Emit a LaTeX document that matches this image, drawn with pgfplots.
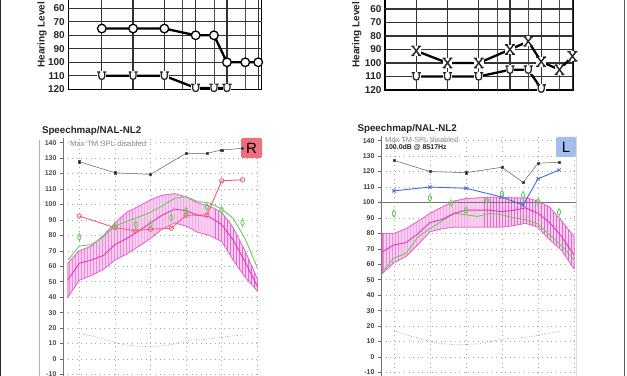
\documentclass[border=0pt]{standalone}
\usepackage{pgfplots}
\pgfplotsset{compat=1.18}
\usepackage{fontspec}
\setmainfont{Liberation Sans}
\usetikzlibrary{patterns}

\definecolor{mpoblk}{RGB}{50,50,50}
\definecolor{redl}{RGB}{240,95,115}
\definecolor{bluel}{RGB}{70,105,225}
\definecolor{greenl}{RGB}{105,205,90}
\definecolor{magl}{RGB}{225,55,190}
\definecolor{bandfill}{RGB}{248,205,240}
\definecolor{rbox}{RGB}{238,110,125}
\definecolor{lbox}{RGB}{165,190,240}

\pgfdeclareplotmark{ear}{%
  \pgfpathellipse{\pgfpointorigin}{\pgfqpoint{1.6pt}{0pt}}{\pgfqpoint{0pt}{2.6pt}}%
  \pgfpathmoveto{\pgfqpoint{0pt}{2.6pt}}\pgfpathlineto{\pgfqpoint{0pt}{4.6pt}}%
  \pgfpathmoveto{\pgfqpoint{0pt}{-2.6pt}}\pgfpathlineto{\pgfqpoint{0pt}{-4.6pt}}%
  \pgfusepathqstroke}
\pgfdeclareplotmark{Umark}{%
  \pgfpathrectangle{\pgfqpoint{-4.4pt}{-4.4pt}}{\pgfqpoint{8.8pt}{8.8pt}}%
  \pgfsetfillcolor{white}\pgfusepathqfill
  \pgfpathmoveto{\pgfqpoint{-3pt}{3.8pt}}\pgfpathlineto{\pgfqpoint{-3pt}{-0.6pt}}%
  \pgfpathcurveto{\pgfqpoint{-3pt}{-4.6pt}}{\pgfqpoint{3pt}{-4.6pt}}{\pgfqpoint{3pt}{-0.6pt}}%
  \pgfpathlineto{\pgfqpoint{3pt}{3.8pt}}%
  \pgfpathmoveto{\pgfqpoint{-4.6pt}{3.8pt}}\pgfpathlineto{\pgfqpoint{-1.4pt}{3.8pt}}%
  \pgfpathmoveto{\pgfqpoint{1.4pt}{3.8pt}}\pgfpathlineto{\pgfqpoint{4.6pt}{3.8pt}}%
  \pgfusepathqstroke}
\pgfdeclareplotmark{Xmark}{%
  \pgfpathrectangle{\pgfqpoint{-4.8pt}{-5pt}}{\pgfqpoint{9.6pt}{10pt}}%
  \pgfsetfillcolor{white}\pgfusepathqfill
  \pgfpathmoveto{\pgfqpoint{-3.6pt}{4.6pt}}\pgfpathlineto{\pgfqpoint{3.6pt}{-4.6pt}}%
  \pgfpathmoveto{\pgfqpoint{3.6pt}{4.6pt}}\pgfpathlineto{\pgfqpoint{-3.6pt}{-4.6pt}}%
  \pgfpathmoveto{\pgfqpoint{-5pt}{4.6pt}}\pgfpathlineto{\pgfqpoint{-1.8pt}{4.6pt}}%
  \pgfpathmoveto{\pgfqpoint{1.8pt}{4.6pt}}\pgfpathlineto{\pgfqpoint{5pt}{4.6pt}}%
  \pgfpathmoveto{\pgfqpoint{-5pt}{-4.6pt}}\pgfpathlineto{\pgfqpoint{-1.8pt}{-4.6pt}}%
  \pgfpathmoveto{\pgfqpoint{1.8pt}{-4.6pt}}\pgfpathlineto{\pgfqpoint{5pt}{-4.6pt}}%
  \pgfusepathqstroke}

\pgfkeys{/pgf/number format/assume math mode=true}

\begin{document}
\begin{tikzpicture}
\useasboundingbox (0bp,0bp) rectangle (627bp,376bp);
\fill[white] (0bp,0bp) rectangle (627bp,376bp);
\clip (0bp,0bp) rectangle (627bp,376bp);

% frame lines
\draw[black!85, line width=1.2bp] (0.6bp,0bp) -- (0.6bp,376bp);
\draw[black!65, line width=1bp] (624bp,0bp) -- (624bp,376bp);
\draw[black!30, line width=1.5bp] (39.3bp,0bp) -- (39.3bp,236bp);

% ---------- Left audiogram ----------
\node[rotate=90, anchor=west, font=\fontsize{10}{10}\selectfont\bfseries, text=black!85] at (42bp,305bp) {Hearing Level in dB};
\begin{axis}[at={(68.3bp,286.7bp)}, anchor=south west, width=193.4bp, height=94.5bp,
    scale only axis, xmode=log, xmin=119, xmax=8640, ymin=50, ymax=120, y dir=reverse,
    clip=false,
    xtick={250,500,1000,2000,4000,8000}, xticklabels={}, ytick={60,70,...,120},
    axis line style={black, line width=1.5bp},
    major tick length=0pt, minor tick length=0pt,
    yticklabel style={font=\fontsize{10}{10}\selectfont\bfseries, text=black!85}]
\pgfplotsinvokeforeach{250,500,1000,2000,4000,8000}{\draw[black!80, line width=1.2bp] (axis cs:#1,50) -- (axis cs:#1,120);}
\pgfplotsinvokeforeach{1500,3000,6000}{\draw[black!70, line width=0.9bp] (axis cs:#1,50) -- (axis cs:#1,120);}
\pgfplotsinvokeforeach{50,60,70,80,90,100,110}{\draw[black!80, line width=1.2bp] (axis cs:119,#1) -- (axis cs:8640,#1);}
\addplot[black, line width=2.3bp, mark=*, mark size=4.3bp,
  mark options={fill=white, draw=black, line width=1.3bp}]
  coordinates {(250,75) (500,75) (1000,75) (2000,80) (3000,80) (4000,100) (6000,100) (8000,100)};
\addplot[black, line width=2.3bp, mark=Umark, mark options={draw=black!85, line width=1.3bp}]
  coordinates {(250,110) (500,110) (1000,110) (2000,119) (3000,119) (4000,119)};
\end{axis}

% ---------- Right audiogram ----------
\node[rotate=90, anchor=west, font=\fontsize{10}{10}\selectfont\bfseries, text=black!85] at (356.7bp,305bp) {Hearing Level in dB};
\begin{axis}[at={(385bp,286bp)}, anchor=south west, width=188bp, height=94.5bp,
    scale only axis, xmode=log, xmin=125, xmax=8100, ymin=50, ymax=120, y dir=reverse,
    clip=false,
    xtick={250,500,1000,2000,4000,8000}, xticklabels={}, ytick={60,70,...,120},
    axis line style={black, line width=1.5bp},
    major tick length=0pt, minor tick length=0pt,
    yticklabel style={font=\fontsize{10}{10}\selectfont\bfseries, text=black!85}]
\pgfplotsinvokeforeach{250,500,1000,2000,4000,8000}{\draw[black!80, line width=1.2bp] (axis cs:#1,50) -- (axis cs:#1,120);}
\pgfplotsinvokeforeach{1500,3000,6000}{\draw[black!70, line width=0.9bp] (axis cs:#1,50) -- (axis cs:#1,120);}
\pgfplotsinvokeforeach{50,60,70,80,90,100,110}{\draw[black!80, line width=1.2bp] (axis cs:125,#1) -- (axis cs:8100,#1);}
\addplot[black, line width=2.3bp, mark=Xmark, mark options={draw=black!85, line width=1.4bp}]
  coordinates {(250,91) (500,100) (1000,100) (2000,90) (3000,84) (4000,99) (6000,105) (8000,95)};
\addplot[black, line width=2.3bp, mark=Umark, mark options={draw=black!85, line width=1.3bp}]
  coordinates {(250,110) (500,110) (1000,110) (2000,105) (3000,105) (4000,119)};
\end{axis}

% ---------- Left speechmap ----------
\node[anchor=west, font=\fontsize{9.8}{10}\selectfont\bfseries, text=black!85] at (38.5bp,245bp) {Speechmap/NAL-NL2};
\node[anchor=west, font=\fontsize{7.8}{7.8}\selectfont, text=black!45, inner sep=0] at (70bp,232.7bp) {Max TM SPL disabled};
\node[fill=rbox, rounded corners=1.5bp, minimum width=21bp, minimum height=20bp, inner sep=0,
  font=\fontsize{15}{15}\selectfont] at (251.5bp,228bp) {R};
\begin{axis}[at={(63bp,-21.6bp)}, anchor=south west, width=196bp, height=259.56bp,
    scale only axis, xmode=log, xmin=182, xmax=8270, ymin=-25, ymax=143,
    axis lines*=left, axis line style={black!55, line width=0.8bp},
    xtick={250,500,1000,2000,4000,8000}, xticklabels={},
    ytick={-10,0,...,140},
    tick align=outside, major tick length=3bp, tick style={black!60, line width=0.6bp},
    grid=major, grid style={black!35, line width=0.5bp, dash pattern=on 0.6bp off 4bp},
    yticklabel style={font=\fontsize{7}{7}\selectfont\bfseries, text=black!70}]
\addplot[draw=magl!80, line width=0.5bp, fill=bandfill,
    postaction={pattern=vertical lines, pattern color=magl!75}] coordinates {
  (200,62) (250,70) (315,73) (400,80) (500,88) (630,95) (800,99) (1000,103) (1250,106)
  (1600,107) (2000,105) (2500,101) (3150,99) (4000,95) (5000,85) (6300,70) (8000,52)
  (8000,44) (6300,53) (5000,64) (4000,76) (3150,80) (2500,82) (2000,86) (1600,88)
  (1250,84) (1000,78) (800,73) (630,68) (500,64) (400,58) (315,54) (250,51) (200,40) (200,62)};
\addplot[greenl, line width=0.9bp] coordinates {
  (200,64) (250,73) (315,74) (400,79) (500,86) (630,89) (800,92) (1000,95) (1250,99)
  (1600,104) (2000,105) (2500,102) (3150,101) (4000,97) (5000,91) (6300,78) (8000,59)};
\addplot[magl, line width=0.9bp] coordinates {
  (200,51) (250,62) (315,64) (400,67) (500,74) (630,78) (800,83) (1000,88) (1250,93)
  (1600,97) (2000,96) (2500,93) (3150,92) (4000,87) (5000,77) (6300,63) (8000,47)};
\addplot[black!55, line width=0.6bp, dotted] coordinates {
  (250,16.5) (315,15) (400,13) (500,10.5) (630,9) (800,8) (1000,8) (1250,8.5) (1600,9.5)
  (2000,12) (2500,12.5) (3150,13) (4000,14) (5000,15) (6300,15.5)};
\addplot[mpoblk!80, line width=0.5bp, mark=square*, mark size=1.1bp, mark options={fill=black}]
  coordinates {(250,127.7) (500,120.5) (1000,119.5) (2000,133.1) (3000,133.1) (4000,135.3) (6000,136.3)};
\addplot[redl, line width=0.9bp, mark=o, mark size=2.2bp, mark options={fill=white, line width=0.8bp}]
  coordinates {(250,92.5) (500,85) (750,83) (1000,84) (1500,84.6) (2000,93) (3000,93.2) (4000,115.3) (6000,116)};
\addplot[only marks, mark=ear, mark options={draw=greenl, line width=0.9bp}]
  coordinates {(250,78.8) (500,86) (750,87.2) (1000,87.2) (1500,91.5) (2000,96) (3000,98.5) (4000,96.5) (6000,88.2)};
\draw[black!20, line width=0.6bp] (rel axis cs:1,0) -- (rel axis cs:1,1);
\end{axis}

% ---------- Right speechmap ----------
\node[anchor=west, font=\fontsize{9.8}{10}\selectfont\bfseries, text=black!85] at (354bp,247bp) {Speechmap/NAL-NL2};
\node[anchor=west, font=\fontsize{7.5}{7.5}\selectfont, text=black!45, inner sep=0] at (385bp,236bp) {Max TM SPL disabled};
\node[anchor=west, font=\fontsize{7}{7}\selectfont\bfseries, text=black!85, inner sep=0] at (385bp,228bp) {100.0dB @ 8517Hz};
\node[fill=lbox, rounded corners=1.5bp, minimum width=20bp, minimum height=20bp, inner sep=0,
  font=\fontsize{15}{15}\selectfont] at (566bp,229bp) {L};
\begin{axis}[at={(381bp,-19.6bp)}, anchor=south west, width=195.7bp, height=259.56bp,
    scale only axis, xmode=log, xmin=195, xmax=8420, ymin=-25, ymax=143,
    axis lines*=left, axis line style={black!55, line width=0.8bp},
    xtick={250,500,1000,2000,4000,8000}, xticklabels={},
    ytick={-10,0,...,140},
    tick align=outside, major tick length=3bp, tick style={black!60, line width=0.6bp},
    grid=major, grid style={black!35, line width=0.5bp, dash pattern=on 0.6bp off 4bp},
    yticklabel style={font=\fontsize{7}{7}\selectfont\bfseries, text=black!75}]
\addplot[draw=magl!80, line width=0.5bp, fill=bandfill,
    postaction={pattern=vertical lines, pattern color=magl!75}] coordinates {
  (200,80) (250,80) (315,83) (400,88) (500,93) (630,97) (800,101) (1000,102.5) (1250,103)
  (1600,103.5) (2000,103.5) (2500,103) (3150,103) (4000,101) (5000,97) (6300,88) (8000,78)
  (8000,57) (6300,69) (5000,76) (4000,84) (3150,86.5) (2500,85) (2000,84) (1600,84)
  (1250,84) (1000,84) (800,84) (630,83) (500,81) (400,73) (315,65) (250,61) (200,54) (200,80)};
\addplot[greenl, line width=0.9bp] coordinates {
  (200,55) (250,64) (315,67) (400,78) (500,83) (630,88) (800,93) (1000,92) (1250,91)
  (1600,93) (2000,92) (2500,90) (3150,89) (4000,86) (5000,79) (6300,72) (8000,63)};
\addplot[magl, line width=0.9bp] coordinates {
  (200,68) (250,72.5) (315,74) (400,80) (500,87) (630,89) (800,93) (1000,95) (1250,95)
  (1600,95) (2000,94) (2500,95) (3150,96.5) (4000,93) (5000,87) (6300,78) (8000,66)};
\addplot[black!55, line width=0.6bp, dotted] coordinates {
  (250,17) (315,14.5) (400,12) (500,10) (630,8.5) (800,8) (1000,8) (1250,8.5) (1600,10)
  (2000,11.5) (2500,12) (3150,12.8) (4000,14) (5000,15.5) (6300,16.5)};
\addplot[black!55, line width=0.7bp] coordinates {(195,100) (8420,100)};
\addplot[mpoblk!80, line width=0.5bp, mark=square*, mark size=1.1bp, mark options={fill=black}]
  coordinates {(250,127.3) (500,120) (1000,119.3) (2000,122.8) (3000,113) (4000,125.4) (6000,126)};
\addplot[bluel, line width=0.9bp, mark=x, mark size=2.3bp, mark options={line width=0.8bp}]
  coordinates {(250,107.5) (500,110) (1000,109.2) (2000,103.5) (3000,98.3) (4000,115.3) (6000,121)};
\addplot[only marks, mark=ear, mark options={draw=greenl, line width=0.9bp}]
  coordinates {(250,92.8) (500,102.8) (750,99.6) (1000,95) (1500,101.2) (2000,105.7) (3000,104.8) (4000,100.6) (6000,93.7)};
\draw[black!20, line width=0.6bp] (rel axis cs:1,0) -- (rel axis cs:1,1);
\end{axis}
\end{tikzpicture}
\end{document}
